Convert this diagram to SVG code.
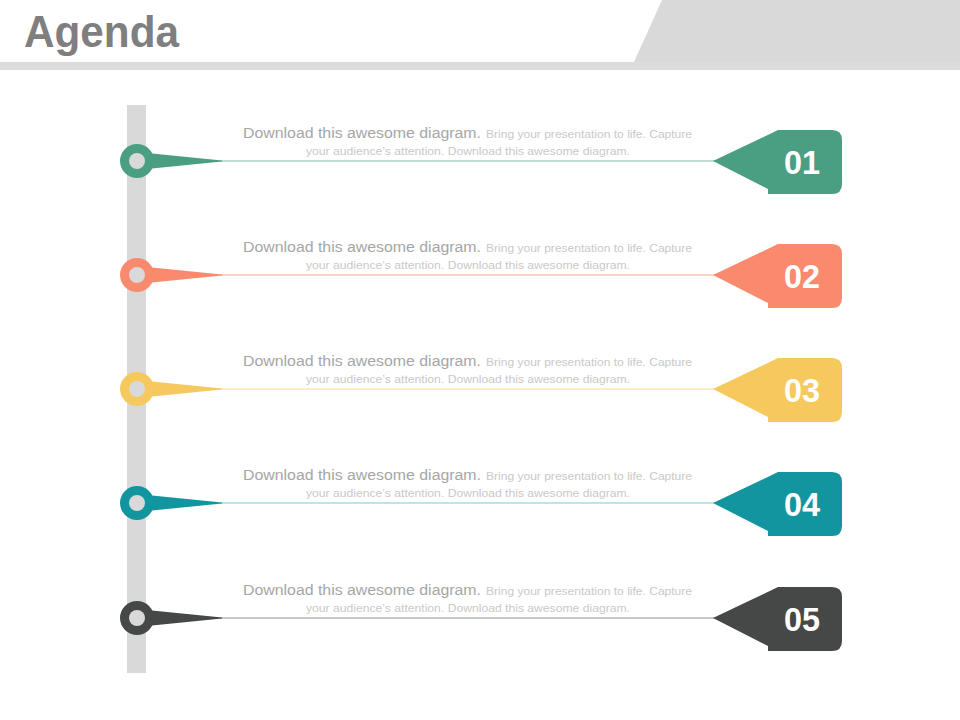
<svg xmlns="http://www.w3.org/2000/svg" width="960" height="720" viewBox="0 0 960 720">
<defs>
<style>
.title{font-family:"Liberation Sans",Arial,sans-serif;font-weight:bold;font-size:45px;fill:#7f7f7f}
.t1{font-family:"Liberation Sans",Arial,sans-serif;font-size:15.5px;fill:#a6a6a6}
.t2{font-family:"Liberation Sans",Arial,sans-serif;font-size:11px;fill:#c9c9c9}
.num{font-family:"Liberation Sans",Arial,sans-serif;font-weight:bold;font-size:34px;fill:#ffffff;text-anchor:middle}
.hole{fill:#d9d9d9}
</style>
<g id="pin">
<path d="M137 152 L222 160.5 L222 161.5 L137 170 Z"/>
<circle cx="137" cy="161" r="17"/>
<circle cx="137" cy="161" r="8" class="hole"/>
</g>
<path id="tag" d="M713 161 L778 130 L832 130 Q842 130 842 140 L842 184 Q842 194 832 194 L768 194 L768 189 Z"/>
</defs>
<rect width="960" height="720" fill="#ffffff"/>
<g id="header">
<rect x="0" y="62" width="960" height="8" fill="#dcdcdc"/>
<polygon points="662,0 960,0 960,62 634,62" fill="#d9d9d9"/>
<text class="title" x="24" y="47" textLength="155" lengthAdjust="spacingAndGlyphs">Agenda</text>
</g>
<rect id="timeline" x="127" y="105" width="19" height="568" fill="#d9d9d9"/>
<g id="connectors">
<line x1="220" y1="161" x2="715" y2="161" stroke="#a8d3c4" stroke-width="1.5"/>
<line x1="220" y1="275" x2="715" y2="275" stroke="#fbc4b4" stroke-width="1.5"/>
<line x1="220" y1="389" x2="715" y2="389" stroke="#fae6bb" stroke-width="1.5"/>
<line x1="220" y1="503" x2="715" y2="503" stroke="#a6dde2" stroke-width="1.5"/>
<line x1="220" y1="618" x2="715" y2="618" stroke="#b5b5b5" stroke-width="1.5"/>
</g>
<g id="item1" fill="#4a9e81">
<use href="#pin"/>
<use href="#tag"/>
<text class="num" x="802" y="174" textLength="36" lengthAdjust="spacingAndGlyphs">01</text>
<text class="t1" x="243" y="138"><tspan textLength="238" lengthAdjust="spacingAndGlyphs">Download this awesome diagram.</tspan><tspan class="t2" x="486" textLength="206" lengthAdjust="spacingAndGlyphs">Bring your presentation to life. Capture</tspan></text>
<text class="t2" x="306" y="155" textLength="324" lengthAdjust="spacingAndGlyphs">your audience’s attention. Download this awesome diagram.</text>
</g>
<g id="item2" fill="#f98a6e">
<use href="#pin" y="114"/>
<use href="#tag" y="114"/>
<text class="num" x="802" y="288" textLength="36" lengthAdjust="spacingAndGlyphs">02</text>
<text class="t1" x="243" y="252"><tspan textLength="238" lengthAdjust="spacingAndGlyphs">Download this awesome diagram.</tspan><tspan class="t2" x="486" textLength="206" lengthAdjust="spacingAndGlyphs">Bring your presentation to life. Capture</tspan></text>
<text class="t2" x="306" y="269" textLength="324" lengthAdjust="spacingAndGlyphs">your audience’s attention. Download this awesome diagram.</text>
</g>
<g id="item3" fill="#f5c95e">
<use href="#pin" y="228"/>
<use href="#tag" y="228"/>
<text class="num" x="802" y="402" textLength="36" lengthAdjust="spacingAndGlyphs">03</text>
<text class="t1" x="243" y="366"><tspan textLength="238" lengthAdjust="spacingAndGlyphs">Download this awesome diagram.</tspan><tspan class="t2" x="486" textLength="206" lengthAdjust="spacingAndGlyphs">Bring your presentation to life. Capture</tspan></text>
<text class="t2" x="306" y="383" textLength="324" lengthAdjust="spacingAndGlyphs">your audience’s attention. Download this awesome diagram.</text>
</g>
<g id="item4" fill="#13959f">
<use href="#pin" y="342"/>
<use href="#tag" y="342"/>
<text class="num" x="802" y="516" textLength="36" lengthAdjust="spacingAndGlyphs">04</text>
<text class="t1" x="243" y="480"><tspan textLength="238" lengthAdjust="spacingAndGlyphs">Download this awesome diagram.</tspan><tspan class="t2" x="486" textLength="206" lengthAdjust="spacingAndGlyphs">Bring your presentation to life. Capture</tspan></text>
<text class="t2" x="306" y="497" textLength="324" lengthAdjust="spacingAndGlyphs">your audience’s attention. Download this awesome diagram.</text>
</g>
<g id="item5" fill="#464847">
<use href="#pin" y="457"/>
<use href="#tag" y="457"/>
<text class="num" x="802" y="631" textLength="36" lengthAdjust="spacingAndGlyphs">05</text>
<text class="t1" x="243" y="595"><tspan textLength="238" lengthAdjust="spacingAndGlyphs">Download this awesome diagram.</tspan><tspan class="t2" x="486" textLength="206" lengthAdjust="spacingAndGlyphs">Bring your presentation to life. Capture</tspan></text>
<text class="t2" x="306" y="612" textLength="324" lengthAdjust="spacingAndGlyphs">your audience’s attention. Download this awesome diagram.</text>
</g>
</svg>
